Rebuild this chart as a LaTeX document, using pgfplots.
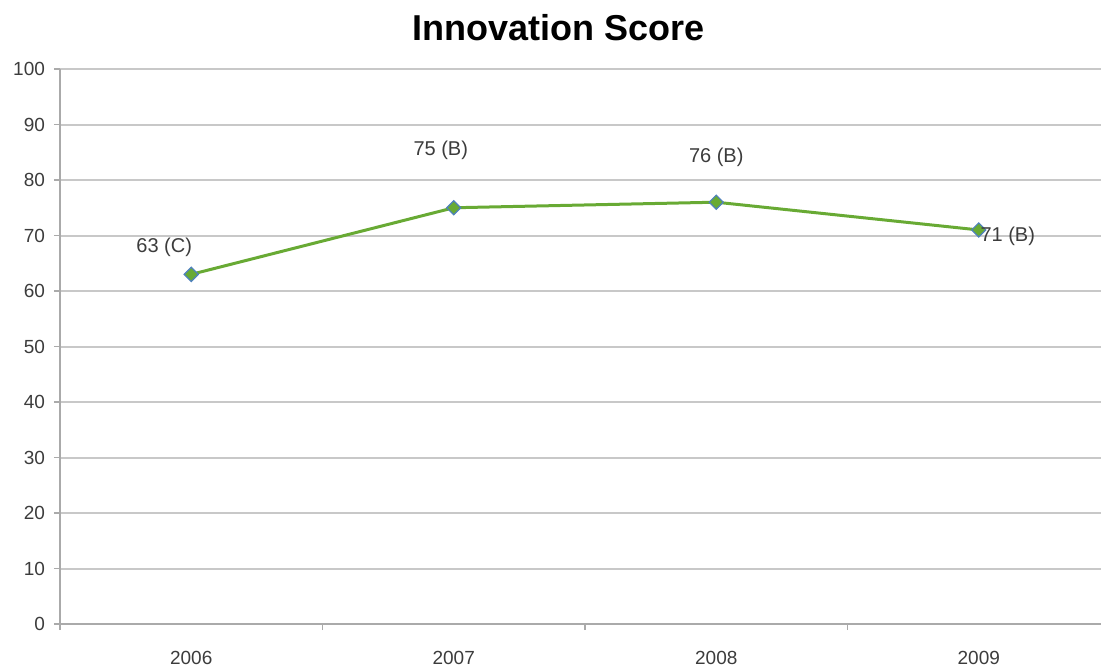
\documentclass[border=0pt]{standalone}
\usepackage{fontspec}
\setmainfont{Liberation Sans}
\usepackage{pgfplots}
\usepackage{pgfplotstable}
\pgfplotsset{compat=1.18}
\definecolor{lineg}{RGB}{104,170,52}
\definecolor{markb}{RGB}{79,129,189}
\definecolor{gridc}{RGB}{200,200,200}
\definecolor{axc}{RGB}{170,170,170}
\definecolor{txt}{RGB}{60,60,60}
\pgfplotstableread{
x y label dx dy
0 63 {63 (C)} -13.5 13.5
1 75 {75 (B)} -6.5 28.5
2 76 {76 (B)} 0 22.5
3 71 {71 (B)} 14.5 -3
}\data
\begin{document}
\begin{tikzpicture}
\begin{axis}[
  at={(0,0)}, anchor=south west,
  scale only axis, width=525pt, height=277.5pt,
  xmin=-0.5, xmax=3.5, ymin=0, ymax=100,
  axis lines*=left,
  axis line style={axc, line width=1pt},
  xtick={0,1,2,3},
  xticklabels={2006,2007,2008,2009},
  major x tick style={draw=none},
  extra x ticks={-0.5,0.5,1.5,2.5},
  extra x tick labels={},
  extra x tick style={grid=none, major tick length=3pt, major x tick style={draw=axc, line width=0.8pt}},
  ytick={0,10,...,100},
  ymajorgrids,
  major grid style={gridc, line width=1pt},
  tick align=outside,
  major tick length=3pt,
  y tick style={axc, line width=0.8pt},
  tick label style={font=\fontsize{9.5}{11}\selectfont, text=txt},
  /pgf/number format/assume math mode=true,
  yticklabel style={xshift=-1pt},
  xticklabel style={yshift=-7pt},
  title={\textbf{Innovation Score}},
  title style={at={(0.475,1)}, anchor=center, yshift=14.5pt, font=\fontsize{18}{20}\selectfont},
  clip=false,
]
\addplot[lineg, line width=1.5pt, mark=square*, mark size=2.5pt,
  mark options={fill=lineg, draw=markb, line width=0.6pt, rotate=45},
  point meta=explicit symbolic,
  nodes near coords,
  visualization depends on={\thisrow{dx}\as\dx},
  visualization depends on={\thisrow{dy}\as\dy},
  every node near coord/.append style={anchor=center, rotate=0, xshift=\dx pt, yshift=\dy pt, font=\fontsize{10}{12}\selectfont, text=txt},
] table[x=x, y=y, meta=label] {\data};
\end{axis}
\pgfresetboundingbox
\path (-30pt,-21pt) rectangle (520.5pt,312pt);
\end{tikzpicture}
\end{document}
